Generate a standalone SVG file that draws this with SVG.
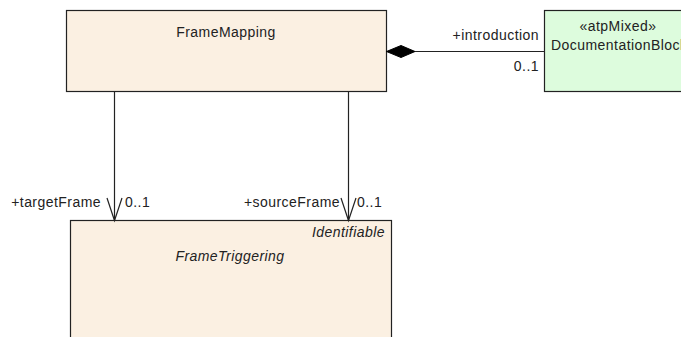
<svg xmlns="http://www.w3.org/2000/svg" width="681" height="337" viewBox="0 0 681 337">
<style>
.cls{fill:#FBF0E2;stroke:#222;stroke-width:1.2}
.grn{fill:#DDFCDD;stroke:#222;stroke-width:1.2}
text{font-family:"Liberation Sans",Arial,sans-serif;font-size:14px;fill:#222;letter-spacing:0.45px}
.it{font-style:italic}
.ln{stroke:#222;stroke-width:1.2;fill:none}
</style>
<rect width="681" height="337" fill="#fff"/>
<g id="FrameMapping">
<rect class="cls" x="66.5" y="10.5" width="320" height="81"/>
<text x="226" y="37" text-anchor="middle">FrameMapping</text>
</g>
<g id="DocumentationBlock">
<rect class="grn" x="544.5" y="10.5" width="150" height="81"/>
<text x="618" y="31" text-anchor="middle">«atpMixed»</text>
<text x="551" y="50">DocumentationBlock</text>
</g>
<g id="FrameTriggering">
<rect class="cls" x="70.5" y="220.5" width="321" height="130"/>
<text class="it" x="385" y="237" text-anchor="end">Identifiable</text>
<text class="it" x="230" y="261" text-anchor="middle">FrameTriggering</text>
</g>
<g id="connectors">
<line class="ln" x1="415" y1="51.5" x2="544.5" y2="51.5"/>
<polygon points="386.5,51.5 401,45.5 415,51.5 401,57.5" fill="#000" stroke="#000" stroke-width="1"/>
<text x="539" y="40" text-anchor="end">+introduction</text>
<text x="539" y="71" text-anchor="end">0..1</text>
<line class="ln" x1="114.5" y1="91.5" x2="114.5" y2="220.5"/>
<polyline class="ln" points="107,198 114.5,220.5 122,198"/>
<text x="101" y="207" text-anchor="end">+targetFrame</text>
<text x="125" y="207">0..1</text>
<line class="ln" x1="348.5" y1="91.5" x2="348.5" y2="220.5"/>
<polyline class="ln" points="341,198 348.5,220.5 356,198"/>
<text x="340" y="207" text-anchor="end">+sourceFrame</text>
<text x="357" y="207">0..1</text>
</g>
</svg>
